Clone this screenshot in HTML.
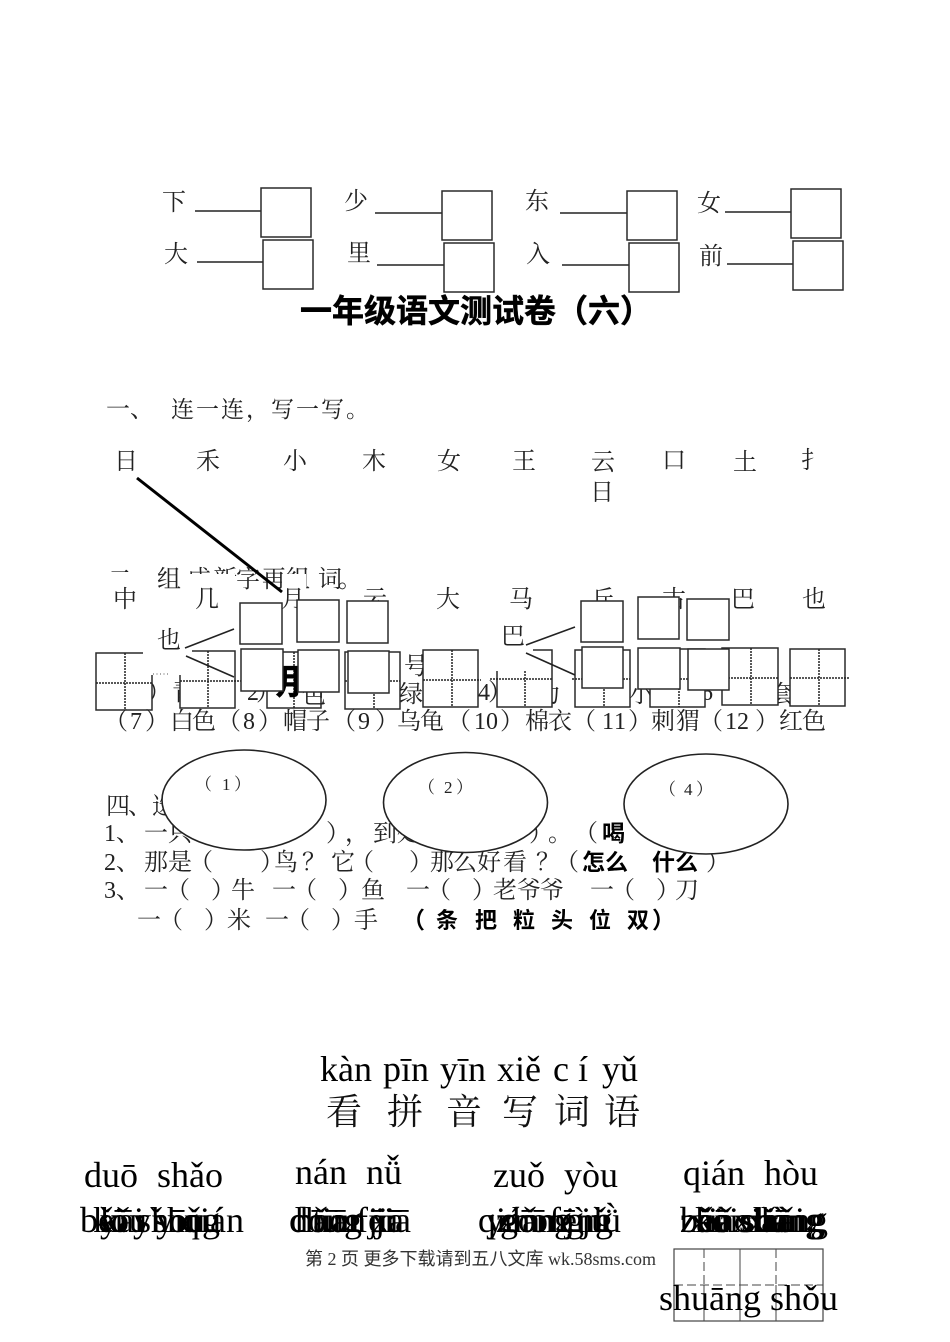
<!DOCTYPE html>
<html><head><meta charset="utf-8">
<style>
html,body{margin:0;padding:0;background:#fff;width:950px;height:1342px;overflow:hidden}
svg{display:block}
.c{font-family:"Liberation Serif","Noto Serif CJK SC",serif;font-size:24px;fill:#222}
.h{font-family:"Liberation Sans","Noto Sans CJK SC",sans-serif;font-weight:700;fill:#000}
.p{font-family:"Liberation Serif",serif;font-size:36px;fill:#000}
.b{fill:#fff;stroke:#2a2a2a;stroke-width:1.5}
.l{stroke:#222;stroke-width:1.6;fill:none}
.d{stroke:#222;stroke-width:1.5;stroke-dasharray:2 1;fill:none}
</style></head><body>
<svg width="950" height="1342" viewBox="0 0 950 1342" xmlns="http://www.w3.org/2000/svg">
<rect width="950" height="1342" fill="#fff"/>

<!-- top -->
<g class="c">
<text x="162" y="210">下</text><text x="164" y="262">大</text>
<text x="344" y="209">少</text><text x="347" y="261">里</text>
<text x="525" y="209">东</text><text x="526" y="262">入</text>
<text x="697" y="211">女</text><text x="699" y="264">前</text>
</g>
<path class="l" d="M195 211H261M197 262H263M375 213H442M377 265H444M560 213H627M562 265H629M725 212H791M727 264H793"/>
<rect class="b" x="261" y="188" width="50" height="49"/><rect class="b" x="263" y="240" width="50" height="49"/>
<rect class="b" x="442" y="191" width="50" height="49"/><rect class="b" x="444" y="243" width="50" height="49"/>
<rect class="b" x="627" y="191" width="50" height="49"/><rect class="b" x="629" y="243" width="50" height="49"/>
<rect class="b" x="791" y="189" width="50" height="49"/><rect class="b" x="793" y="241" width="50" height="49"/>
<text class="h" font-size="32" stroke="#000" stroke-width="0.5" x="300" y="322">一年级语文测试卷（六）</text>

<!-- section 1 -->
<g class="c">
<text x="106" y="417">一、</text>
<text x="171 196 221 246 271 296 321 346" y="417" font-size="23">连一连，写一写。</text>
<text x="114" y="469">日</text><text x="196" y="469">禾</text><text x="283" y="469">小</text><text x="362" y="469">木</text>
<text x="437" y="469">女</text><text x="512" y="469">王</text><text x="591" y="470">云</text><text x="590" y="500">日</text>
<text x="662" y="468">口</text><text x="733" y="470">土</text><text x="801" y="468">扌</text>
<text x="108 157 187 213 236 262 286 318 338" y="587">二组成新字再组词。</text>
</g>
<rect x="108" y="574" width="30" height="40" fill="#fff"/>
<rect x="187" y="574" width="48" height="40" fill="#fff"/>
<rect x="282" y="574" width="24" height="40" fill="#fff"/>
<line x1="137" y1="478" x2="282" y2="592" stroke="#000" stroke-width="3"/>
<g class="c">
<text x="113" y="607">中</text><text x="195" y="607">几</text><text x="281" y="607">月</text><text x="363" y="607">云</text>
<text x="436" y="607">大</text><text x="509" y="607">马</text><text x="591" y="607">丘</text><text x="662" y="607">古</text>
<text x="731" y="607">巴</text><text x="802" y="607">也</text>
</g>

<!-- grid 3 and hidden row -->
<g>
<rect x="267" y="652" width="54" height="56" fill="none" stroke="#2a2a2a" stroke-width="1.5"/>
<line class="d" x1="294" y1="652" x2="294" y2="708"/>
</g>
<text class="c" x="404" y="674">号</text>
<text class="h" font-size="34" stroke="#000" stroke-width="0.6" x="266" y="694">明</text>
<text class="c" x="147 172" y="700">）青</text>
<text class="c" x="247 256" y="700">2）</text>
<text class="c" x="302" y="703">色</text>
<text class="c" x="399" y="702">绿</text>
<text class="c" x="478 488" y="700">4）</text>
<text class="c" x="537" y="702">力</text>
<text class="c" x="629" y="702">小</text>
<text class="c" x="701" y="700">6</text>
<text class="c" x="770" y="702">套</text>

<!-- grids -->
<g>
<rect class="b" x="96" y="653" width="56" height="57"/><path class="d" d="M96 683H152M125 653V710"/>
<rect class="b" x="180" y="651" width="55" height="57"/><path class="d" d="M180 681H245M208 651V708"/>
<rect x="143" y="622" width="49" height="53" fill="#fff"/>
<path d="M153 674H170" stroke="#555" stroke-width="1" stroke-dasharray="1 2.5"/>
<rect class="b" x="345" y="652" width="55" height="57"/><path class="d" d="M345 681H400M374 652V709"/>
<rect class="b" x="423" y="650" width="55" height="57"/><path class="d" d="M423 680H481M452 650V707"/>
<rect class="b" x="497" y="650" width="55" height="57"/><path class="d" d="M490 679H552M525 650V707"/>
<rect x="495" y="620" width="38" height="51" fill="#fff"/>
<rect class="b" x="575" y="650" width="55" height="57"/><path class="d" d="M572 679H630M604 650V707"/>
<rect class="b" x="650" y="649" width="55" height="58"/><path class="d" d="M650 679H705M679 649V707"/>
<rect class="b" x="722" y="648" width="56" height="57"/><path class="d" d="M722 678H778M751 648V705"/>
<rect class="b" x="790" y="649" width="55" height="57"/><path class="d" d="M790 678H849M819 649V706"/>
</g>

<text class="c" x="157" y="648">也</text>
<text class="c" x="501" y="644">巴</text>
<path class="l" d="M185 648L234 629M186 656L234 677M526 645L575 627M526 653L575 675"/>

<!-- small boxes -->
<rect class="b" x="240" y="603" width="42" height="41"/><rect class="b" x="297" y="600" width="42" height="42"/><rect class="b" x="347" y="601" width="41" height="42"/>
<rect class="b" x="241" y="649" width="42" height="42"/><rect class="b" x="298" y="650" width="41" height="42"/><rect class="b" x="348" y="651" width="41" height="42"/>
<rect class="b" x="581" y="601" width="42" height="41"/><rect class="b" x="638" y="597" width="41" height="42"/><rect class="b" x="687" y="599" width="42" height="41"/>
<rect class="b" x="582" y="647" width="41" height="41"/><rect class="b" x="638" y="648" width="42" height="41"/><rect class="b" x="688" y="649" width="41" height="41"/>

<!-- row 7 -->
<text class="c" x="104 130 145 170 192 217 243 258 283 306 332 358 375 397 420 447 474 486 500 525 548 572 602 614 628 651 676 699 725 737 755 779 802" y="729">（7）白色（8）帽子（9）乌龟（10）棉衣（11）刺猬（12）红色</text>

<!-- section 4 -->
<g class="c">
<text x="106 128 152" y="814">四、选</text>
<text x="104 116 144 168" y="841">1、一只</text>
<text x="326 345 373 397" y="841">），到处</text>
<text x="529 548" y="841">）。</text>
<text x="574" y="841">（</text>
<text class="h" font-size="23" x="602" y="841">喝</text>
<text x="104 116 144 168 189 260 274 302 331 350 409 430 453 477 503 536 555" y="870">2、那是（）鸟？它（）那么好看？（</text>
<text class="h" font-size="23" x="582 605 652 675" y="870">怎么什么</text>
<text x="706" y="870">）</text>
<text x="104 116 144 166 211 231 272 293 338 361 406 427 472 493 517 540 590 611 656 675" y="898">3、一（）牛一（）鱼一（）老爷爷一（）刀</text>
<text x="137 159 204 227 265 286 331 354" y="928">一（）米一（）手</text>
<text class="h" font-size="23" x="402" y="928">（</text>
<text class="h" font-size="22" x="436 475 513 551 589 627" y="928">条把粒头位双</text>
<text class="h" font-size="23" x="652" y="928">）</text>
</g>

<!-- ellipses -->
<ellipse cx="244" cy="800" rx="82" ry="50" fill="#fff" stroke="#222" stroke-width="1.6"/>
<ellipse cx="465.5" cy="802.5" rx="82" ry="50" fill="#fff" stroke="#222" stroke-width="1.6"/>
<ellipse cx="706" cy="804" rx="82" ry="50" fill="#fff" stroke="#222" stroke-width="1.6"/>
<g font-family="'Liberation Serif','Noto Serif CJK SC',serif" font-size="17" fill="#222">
<text x="195 222 234" y="790">（1）</text>
<text x="418 444 456" y="793">（2）</text>
<text x="659 684 696" y="795">（4）</text>
</g>

<!-- pinyin section -->
<text class="p" x="320" y="1081" word-spacing="2">kàn pīn yīn xiě</text>
<text class="p" x="553" y="1081">c í</text>
<text class="p" x="602" y="1081">yǔ</text>
<g font-family="'Liberation Serif','Noto Serif CJK SC',serif" font-size="36" fill="#111">
<text x="326 387 446 502 554 604" y="1124">看拼音写词语</text>
</g>
<text class="p" x="84" y="1187">duō</text><text class="p" x="157" y="1187">shǎo</text>
<text class="p" x="295" y="1184">nán</text><text class="p" x="366" y="1184">nǚ</text>
<text class="p" x="493" y="1187">zuǒ</text><text class="p" x="564" y="1187">yòu</text>
<text class="p" x="683" y="1185">qián</text><text class="p" x="764" y="1185">hòu</text>

<g class="p">
<text x="80" y="1232">běi yǐ</text>
<text x="182" y="1232">qián</text>
<text x="93" y="1232">kōu yīng</text>
<text x="100" y="1232">kāi shǒu</text>
<text x="100" y="1232">yǐ shōu</text>
<text x="290" y="1232">dōng xī</text>
<text x="289" y="1232">chūn jiā</text>
<text x="295" y="1232">hǎo fēi</text>
<text x="312" y="1232">tiān jiā</text>
<text x="478" y="1232">qián fēng</text>
<text x="486" y="1232">yuǎn jìn</text>
<text x="496" y="1232">zhōng lǜ</text>
<text x="500" y="1232">gōng jǔ</text>
<text x="680" y="1232">běi xiǎo</text>
<text x="680" y="1232">zuò shāng</text>
<text x="690" y="1232">xiǎo hǎi</text>
<text x="695" y="1232">kāi xiàng</text>
<text x="680" y="1232">zǎo shàng</text>
</g>

<text x="305" y="1265" font-family="'Liberation Serif','Noto Sans CJK SC',sans-serif" font-size="18" fill="#333">第 2 页 更多下载请到五八文库 wk.58sms.com</text>

<rect x="674" y="1249" width="149" height="72" fill="none" stroke="#444" stroke-width="1.2"/>
<path d="M740 1249V1321" stroke="#444" stroke-width="1"/>
<path d="M704 1249V1285M776 1249V1285M674 1285H823" stroke="#444" stroke-width="1" stroke-dasharray="9 4" fill="none"/>
<path d="M704 1285V1321M776 1285V1321" stroke="#444" stroke-width="1"/>
<text class="p" x="659" y="1310">shuāng shǒu</text>
</svg>
</body></html>
